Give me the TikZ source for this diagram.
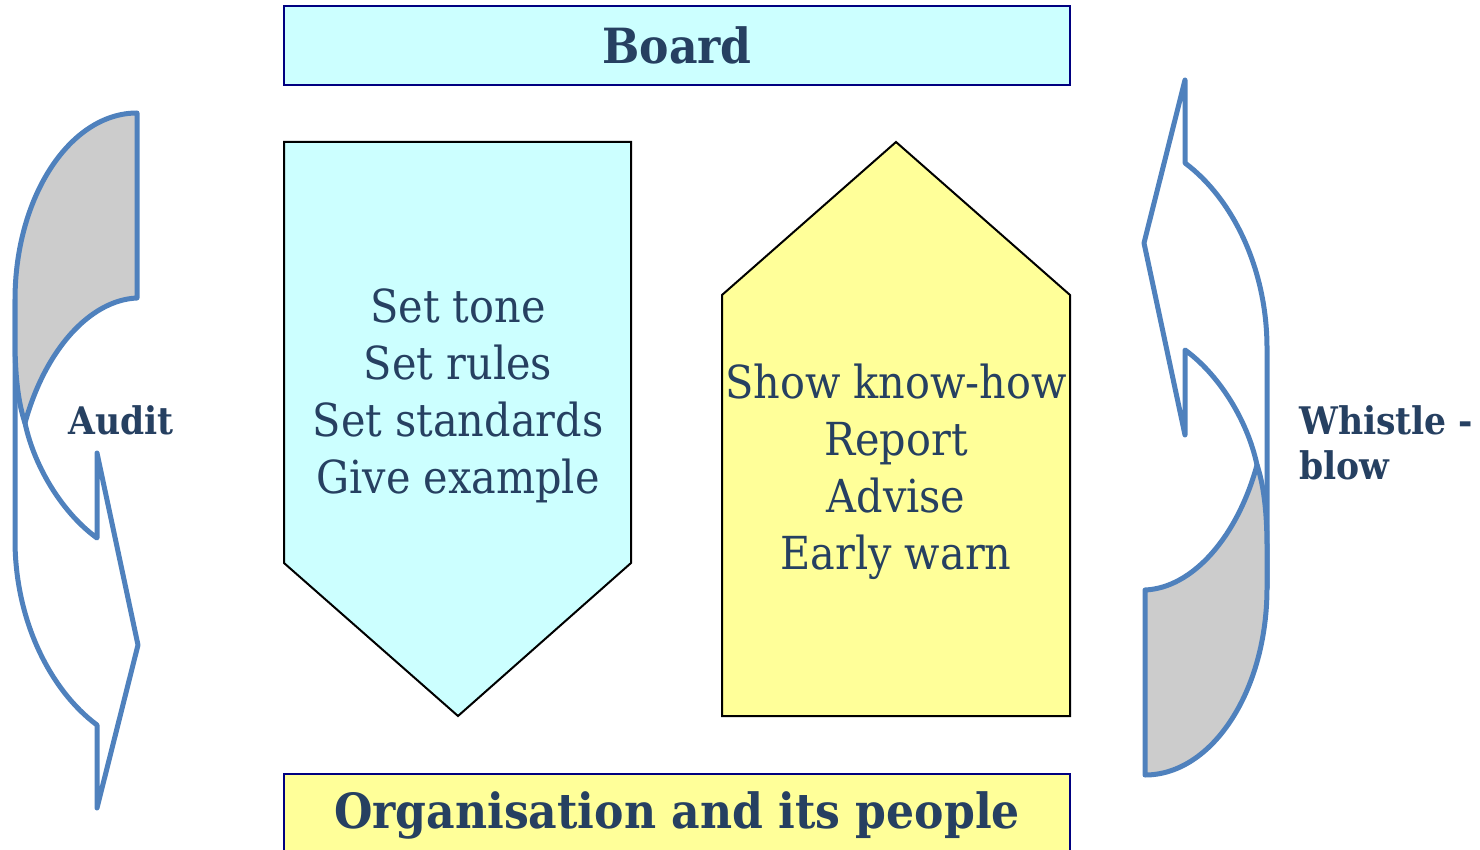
\documentclass[tikz,border=0pt]{standalone}
\usepackage{fontspec}
\setmainfont{DejaVu Serif}[FakeStretch=0.91]
\definecolor{textblue}{RGB}{38,64,97}
\definecolor{bandblue}{RGB}{79,129,189}
\definecolor{boxnavy}{RGB}{0,0,128}
\definecolor{paleteal}{RGB}{204,255,255}
\definecolor{paleyellow}{RGB}{255,255,153}
\definecolor{backgrey}{RGB}{204,204,204}

% one curved band arrow, drawn as on the left; the right one is this turned round
\newcommand{\bandarrow}{%
  \draw[band, fill=white] (15,300) -- (15,540)
     .. controls (15,620) and (50,690) .. (97,725)
     -- (97,808) -- (138,645) -- (97,453) -- (97,538)
     .. controls (65,515) and (35,470) .. (25,423) -- cycle;
  \draw[band, fill=backgrey] (137,113) -- (137,298)
     .. controls (90,300) and (45,350) .. (25,423)
     .. controls (19,405) and (15,380) .. (15,340) -- (15,300)
     .. controls (15,197) and (70,113) .. (137,113) -- cycle;
}

\begin{document}
\begin{tikzpicture}[x=1pt, y=-1pt,
    band/.style={draw=bandblue, line width=5pt, line join=round},
    pentline/.style={draw=black, line width=2pt},
    titlebox/.style={draw=boxnavy, line width=2.5pt, inner sep=0pt,
      text=textblue, font=\fontsize{48.5}{52}\selectfont\bfseries},
    bodytext/.style={align=center, inner sep=0pt, text=textblue,
      font=\fontsize{45.5}{57}\selectfont},
    sidetext/.style={align=left, inner sep=0pt, text=textblue,
      font=\fontsize{38}{45}\selectfont\bfseries}]
  \useasboundingbox (0,0) rectangle (1480,850);

  % top and bottom bars
  \node[titlebox, fill=paleteal, minimum width=786pt, minimum height=79pt]
    (board) at (677,45.5) {Board};
  \node[titlebox, fill=paleyellow, minimum width=786pt, minimum height=82pt]
    (people) at (677,815) {Organisation and its people};

  % downward block
  \draw[pentline, fill=paleteal] (284,142) -- (631,142) -- (631,563)
    -- (458,716) -- (284,563) -- cycle;
  \node[bodytext] (rules) at (458,396)
    {Set tone\\Set rules\\Set standards\\Give example};

  % upward block
  \draw[pentline, fill=paleyellow] (722,295) -- (896,142) -- (1070,295)
    -- (1070,716) -- (722,716) -- cycle;
  \node[bodytext] (advice) at (896,472)
    {Show know-how\\Report\\Advise\\Early warn};

  % side arrows
  \bandarrow
  \begin{scope}[rotate around={180:(641,444)}]
    \bandarrow
  \end{scope}
  \node[sidetext, anchor=west] (audit) at (68,420) {Audit};
  \node[sidetext, anchor=west] (whistle) at (1299,443) {Whistle -\\blow};
\end{tikzpicture}
\end{document}
